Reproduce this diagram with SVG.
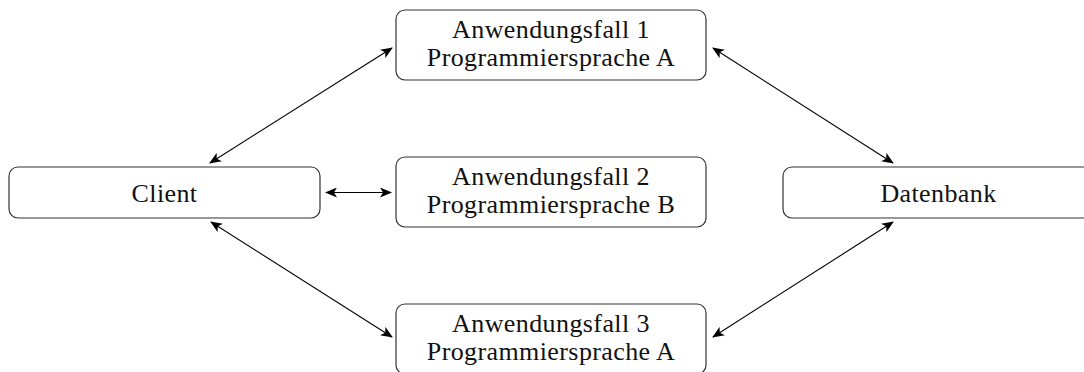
<svg xmlns="http://www.w3.org/2000/svg" width="1084" height="372" viewBox="0 0 1084 372">
<defs>
<marker id="ah" viewBox="0 0 12 10" refX="11" refY="5" markerWidth="12" markerHeight="10" markerUnits="userSpaceOnUse" orient="auto-start-reverse">
<path d="M0,0 L12,5 L0,10 L3,5 Z" fill="#000"/>
</marker>
</defs>
<style>
.box{fill:#fff;stroke:#333;stroke-width:1.2}
.t{font-family:"Liberation Serif","Times New Roman",serif;font-size:26px;letter-spacing:0.4px;fill:#111;text-anchor:middle}
.c{fill:none;stroke:#000;stroke-width:1.1;marker-start:url(#ah);marker-end:url(#ah)}
</style>
<rect width="1084" height="372" fill="#fff"/>
<g id="connectors">
<line class="c" x1="210" y1="163" x2="392" y2="48"/>
<line class="c" x1="713" y1="48" x2="893" y2="163"/>
<line class="c" x1="326" y1="192.5" x2="391" y2="192.5"/>
<line class="c" x1="211" y1="222" x2="392" y2="337"/>
<line class="c" x1="893" y1="222" x2="713" y2="337"/>
</g>
<g id="uc1">
<rect class="box" x="396" y="10" width="310" height="70" rx="9"/>
<text class="t" x="551" y="38">Anwendungsfall 1</text>
<text class="t" x="551" y="65.5">Programmiersprache A</text>
</g>
<g id="uc2">
<rect class="box" x="396" y="157" width="310" height="70" rx="9"/>
<text class="t" x="551" y="185">Anwendungsfall 2</text>
<text class="t" x="551" y="212.5">Programmiersprache B</text>
</g>
<g id="uc3">
<rect class="box" x="396" y="304" width="310" height="70" rx="9"/>
<text class="t" x="551" y="332">Anwendungsfall 3</text>
<text class="t" x="551" y="359.5">Programmiersprache A</text>
</g>
<g id="client">
<rect class="box" x="9" y="167" width="311" height="51" rx="9"/>
<text class="t" x="164.5" y="201.5">Client</text>
</g>
<g id="datenbank">
<rect class="box" x="783" y="167" width="311" height="51" rx="9"/>
<text class="t" x="938.5" y="201.5">Datenbank</text>
</g>
</svg>
